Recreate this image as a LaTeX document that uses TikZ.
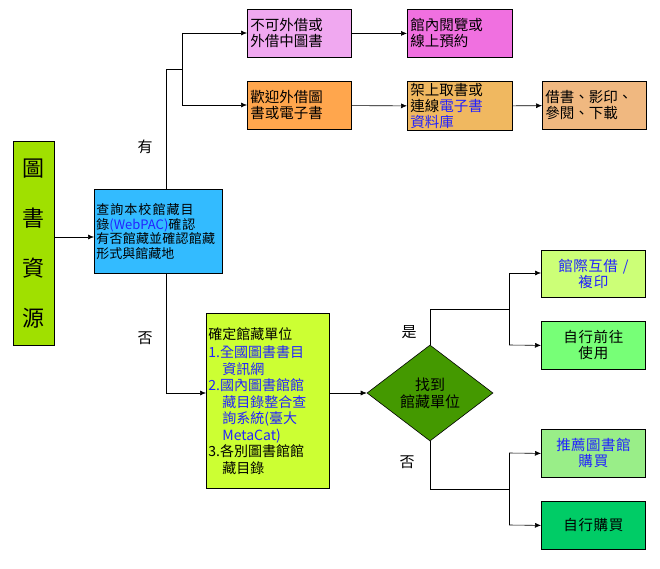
\documentclass[tikz,border=0pt]{standalone}
\usepackage{fontspec}
\setmainfont{Liberation Serif}
\newfontfamily\cjk{Noto Sans CJK TC}
\XeTeXlinebreaklocale "zh"
\XeTeXlinebreakskip=0pt plus 1pt
\usetikzlibrary{shapes.geometric,arrows.meta}
\definecolor{cGreenA}{HTML}{A0E000}
\definecolor{cBlue}{HTML}{33BBFF}
\definecolor{cPinkA}{HTML}{F0A8F0}
\definecolor{cPinkB}{HTML}{F070E0}
\definecolor{cOrA}{HTML}{FFA64D}
\definecolor{cOrB}{HTML}{F0B860}
\definecolor{cOrC}{HTML}{F0B880}
\definecolor{cLime}{HTML}{CCFF33}
\definecolor{cDia}{HTML}{449900}
\definecolor{cG1}{HTML}{CCFF77}
\definecolor{cG2}{HTML}{77FF77}
\definecolor{cG3}{HTML}{99EE88}
\definecolor{cG4}{HTML}{00CC66}
\definecolor{lnk}{HTML}{2222FF}
\tikzset{
 bx/.style={draw=black,line width=0.8pt,inner sep=2pt,font=\cjk\fontsize{14.5}{16}\selectfont,align=left},
 arr/.style={-{Latex[length=6pt,width=5pt]},line width=0.6pt},
 ln/.style={line width=0.6pt},
 lbl/.style={font=\cjk\fontsize{15}{16}\selectfont}
}
\begin{document}
\begin{tikzpicture}[x=1pt,y=-1pt]
\useasboundingbox (0,0) rectangle (660,569);
\def\bxat#1#2#3#4#5#6#7{\node[bx,fill=#6,minimum width=#3-#1,minimum height=#4-#2,text width=#3-#1-6,anchor=north west] (#5) at (#1,#2) {#7};}
\node[draw,line width=0.8pt,fill=cGreenA,minimum width=41,minimum height=204,anchor=north west,align=center,font=\cjk\fontsize{22}{50}\selectfont] (src) at (13,141) {圖\\書\\資\\源};
\node[bx,fill=cBlue,minimum width=128,minimum height=84,text width=124,anchor=north west,font=\cjk\fontsize{13}{14.5}\selectfont] (q) at (94,189) {查詢本校館藏目錄\textcolor{lnk}{(WebPAC)}確認有否館藏並確認館藏形式與館藏地};
\bxat{247}{9}{351}{57}{a1}{cPinkA}{不可外借或\\外借中圖書}
\bxat{407}{9}{512}{57}{a2}{cPinkB}{館內閱覽或\\線上預約}
\bxat{247}{81}{351}{129}{b1}{cOrA}{歡迎外借圖\\書或電子書}
\bxat{407}{81}{512}{129}{b2}{cOrB}{架上取書或\\連線\textcolor{lnk}{電子書}\\\textcolor{lnk}{資料庫}}
\bxat{542}{81}{646}{129}{b3}{cOrC}{借書、影印、\\參閱、下載}
\node[bx,fill=cLime,minimum width=123,minimum height=175,text width=119,anchor=north west,font=\cjk\fontsize{14}{16.5}\selectfont] (c) at (206,313) {確定館藏單位\\[2pt]
\textcolor{lnk}{1.全國圖書書目\\\hspace*{1em}資訊網\\2.國內圖書館館\\\hspace*{1em}藏目錄整合查\\\hspace*{1em}詢系統(臺大\\\hspace*{1em}MetaCat)}\\3.各別圖書館館\\\hspace*{1em}藏目錄};
\node[diamond,draw,line width=0.6pt,fill=cDia,minimum width=126,minimum height=96,inner sep=0pt,align=center,font=\cjk\fontsize{15}{17}\selectfont] (d) at (430,393) {找到\\館藏單位};
\node[bx,fill=cG1,minimum width=104,minimum height=47,text width=100,align=center,anchor=north west,text=lnk] (g1) at (541,250) {館際互借 /\\複印};
\node[bx,fill=cG2,minimum width=104,minimum height=48,text width=100,align=center,anchor=north west] (g2) at (541,321) {自行前往\\使用};
\node[bx,fill=cG3,minimum width=104,minimum height=48,text width=100,align=center,anchor=north west,text=lnk] (g3) at (541,429) {推薦圖書館\\購買};
\node[bx,fill=cG4,minimum width=104,minimum height=48,text width=100,align=center,anchor=north west] (g4) at (541,501) {自行購買};
\draw[arr] (src.east|-0,237) -- (q.west|-0,237);
\coordinate (j1) at (182,69);
\draw[ln] (q.north-|166,0) -- (166,69) -- (j1);
\draw[arr] (182,33) -- (a1.west|-0,33);
\draw[ln] (182,33) -- (182,105);
\draw[arr] (182,105) -- (b1.west|-0,105);
\draw[arr] (a1) -- (a2);
\draw[arr] (b1) -- (b2);
\draw[arr] (b2) -- (b3);
\draw[ln] (q.south-|166,0) -- (166,393);
\draw[arr] (166,393) -- (c.west|-0,393);
\draw[arr] (c.east|-0,393) -- (d.west);
\draw[ln] (d.north) -- (430,309) -- (509,309);
\draw[ln] (509,273) -- (509,345);
\draw[arr] (509,273) -- (g1.west|-0,273);
\draw[arr] (509,345) -- (g2.west);
\draw[ln] (d.south) -- (430,489) -- (509,489);
\draw[ln] (509,453) -- (509,525);
\draw[arr] (509,453) -- (g3.west);
\draw[arr] (509,525) -- (g4.west);
\node[lbl] (ly) at (145,147) {有};
\node[lbl] (ln1) at (145,338) {否};
\node[lbl] (ls) at (409,332) {是};
\node[lbl] (ln2) at (407,462) {否};
\end{tikzpicture}
\end{document}
